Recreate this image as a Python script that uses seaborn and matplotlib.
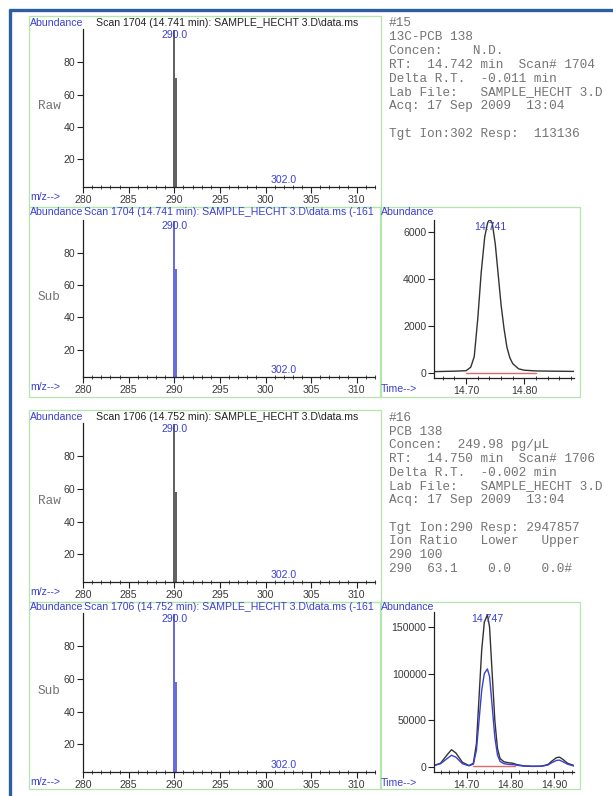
import numpy as np
import matplotlib
matplotlib.use("Agg")
import matplotlib.pyplot as plt
from matplotlib.patches import Rectangle
from matplotlib.lines import Line2D
import pandas as pd
import seaborn as sns

# ---- data ----
ms_mz = [290.0, 290.15, 302.0]
raw15_ab = [100, 70, 0.6]
sub15_ab = [100, 70, 0.6]
raw16_ab = [100, 58, 0.6]
sub16_ab = [100, 58, 0.6]
ms_xticks = [280, 285, 290, 295, 300, 305, 310]
ms_yticks = [20, 40, 60, 80]

c15_t = [14.645, 14.66, 14.68, 14.70, 14.708, 14.714, 14.72, 14.726, 14.732, 14.737,
         14.741, 14.745, 14.750, 14.755, 14.760, 14.765, 14.770, 14.775, 14.780,
         14.790, 14.80, 14.82, 14.85, 14.885]
c15_ab = [60, 70, 80, 100, 250, 700, 2300, 4300, 5800, 6400,
          6550, 6350, 5500, 4200, 2900, 1900, 1100, 650, 400,
          180, 120, 90, 80, 70]
c15_base_t = [14.70, 14.82]
c15_base_ab = [20, 20]

c16_t = [14.625, 14.64, 14.655, 14.665, 14.675, 14.69, 14.705, 14.715, 14.722, 14.728,
         14.734, 14.740, 14.747, 14.752, 14.758, 14.764, 14.770, 14.776, 14.785, 14.795,
         14.805, 14.815, 14.83, 14.85, 14.87, 14.885, 14.895, 14.905, 14.912, 14.92,
         14.93, 14.945]
c16_black = [1500, 4000, 13000, 18500, 15000, 5000, 1500, 4000, 25000, 75000,
             125000, 155000, 163000, 150000, 100000, 50000, 20000, 9000, 5500, 4500,
             4000, 2500, 1200, 800, 900, 2500, 6500, 10000, 10500, 8000,
             4000, 1500]
c16_blue = [1500, 3500, 9000, 12500, 10500, 3500, 1200, 3000, 18000, 50000,
            82000, 100000, 105000, 97000, 65000, 32000, 13000, 6000, 3500, 2800,
            2500, 1800, 900, 600, 700, 2000, 4800, 7000, 7300, 5500,
            3000, 1000]
c16_base_t = [14.715, 14.81]
c16_base_ab = [1500, 1500]

info15 = ["#15", "13C-PCB 138", "Concen:    N.D.", "RT:  14.742 min  Scan# 1704",
          "Delta R.T.  -0.011 min", "Lab File:   SAMPLE_HECHT 3.D",
          "Acq: 17 Sep 2009  13:04", "", "Tgt Ion:302 Resp:  113136"]
info16 = ["#16", "PCB 138", "Concen:  249.98 pg/\u00b5L", "RT:  14.750 min  Scan# 1706",
          "Delta R.T.  -0.002 min", "Lab File:   SAMPLE_HECHT 3.D",
          "Acq: 17 Sep 2009  13:04", "", "Tgt Ion:290 Resp: 2947857",
          "Ion Ratio   Lower   Upper", "290 100", "290  63.1    0.0    0.0#"]

sns.set_style("ticks")
plt.rcParams['font.family'] = ['Liberation Sans', 'DejaVu Sans']

W, H = 613, 796
fig = plt.figure(figsize=(W / 100, H / 100), dpi=100)

BLUE = "#3a40d4"
GREEN = "#b4e6ac"
GRAY = "#747474"
TXT = "#3a3a3a"
FS = 7.6
MONO = 9.2


def px_axes(l, t, r, b):
    return fig.add_axes([l / W, 1 - b / H, (r - l) / W, (b - t) / H])


def ftext(x, y, s, **kw):
    kw.setdefault("va", "center")
    kw.setdefault("fontsize", FS)
    fig.text(x / W, 1 - y / H, s, **kw)


def box(l, t, r, b):
    fig.add_artist(Rectangle((l / W, 1 - b / H), (r - l) / W, (b - t) / H,
                             transform=fig.transFigure, fill=False, ec=GREEN, lw=0.9))


def style(ax):
    sns.despine(ax=ax)
    for s in ("left", "bottom"):
        ax.spines[s].set_color("#222222")
        ax.spines[s].set_linewidth(0.9)
    ax.tick_params(which="major", direction="out", length=4, width=0.8,
                   colors="#222222", labelcolor=TXT, labelsize=FS, pad=1.5)
    ax.tick_params(axis="x", which="minor", direction="inout", length=3.5, width=0.6,
                   colors="#222222")
    ax.tick_params(axis="y", which="minor", length=0)
    ax.set_facecolor("white")
    ax.set_xlabel("")
    ax.set_ylabel("")


def spectrum(top, bottom, ab, color, label):
    ax = px_axes(83, top, 375, bottom)
    ax.vlines(ms_mz, 0, ab, color=color, lw=1.1)
    ax.set_xlim(280, 312)
    ax.set_ylim(3, 100.5)
    ax.set_xticks(ms_xticks)
    ax.set_xticks(np.arange(280, 313, 1), minor=True)
    ax.set_yticks(ms_yticks)
    style(ax)
    tr = ax.get_xaxis_transform()
    ax.text(290, 0.995, "290.0", transform=tr, ha="center", va="top", color=BLUE, fontsize=FS)
    ax.text(302, 0.012, "302.0", transform=tr, ha="center", va="bottom", color=BLUE, fontsize=FS)
    ftext(38, (top + bottom) / 2 - 2, label, color=GRAY, fontsize=MONO, family="Liberation Mono")
    ftext(30, bottom + 10, "m/z-->", color=BLUE)
    return ax


def chrom_limits(ax, xlim, ylim, yticks, xticks):
    ax.set_xlim(*xlim)
    ax.set_ylim(*ylim)
    ax.set_yticks(yticks)
    ax.set_xticks(xticks)
    ax.set_xticks(np.arange(14.62, 14.96, 0.02), minor=True)
    ax.xaxis.set_major_formatter(matplotlib.ticker.FormatStrFormatter("%.2f"))
    ax.set_xlim(*xlim)
    ax.set_ylim(*ylim)


# ---- compound 15 ----
box(29, 16, 381, 207)
ftext(30, 23, "Abundance", color=BLUE)
ftext(96, 23, "Scan 1704 (14.741 min): SAMPLE_HECHT 3.D\\data.ms", color="#222222")
spectrum(29, 187, raw15_ab, "#333333", "Raw")

box(29, 207, 381, 397)
ftext(30, 212, "Abundance", color=BLUE)
ftext(84, 212, "Scan 1704 (14.741 min): SAMPLE_HECHT 3.D\\data.ms (-161", color=BLUE)
spectrum(220, 377, sub15_ab, BLUE, "Sub")

box(380, 207, 580, 397)
ftext(381, 212, "Abundance", color=BLUE)
ftext(381, 389, "Time-->", color=BLUE)
ax = px_axes(434, 220, 574, 378)
d15 = pd.DataFrame({"t": c15_t, "ab": c15_ab})
sns.lineplot(data=d15, x="t", y="ab", ax=ax, color="#333333", lw=1.0, estimator=None)
ax.plot(c15_base_t, c15_base_ab, color="#e06a6a", lw=1.0)
chrom_limits(ax, (14.645, 14.885), (-210, 6510), [0, 2000, 4000, 6000], [14.70, 14.80])
ax.text(14.741, 0.99, "14.741", transform=ax.get_xaxis_transform(), ha="center", va="top",
        color=BLUE, fontsize=FS)
style(ax)

for i, line in enumerate(info15):
    ftext(389, 23 + i * 13.9, line, color=GRAY, fontsize=MONO, family="Liberation Mono")

# ---- compound 16 ----
box(29, 410, 381, 602)
ftext(30, 417, "Abundance", color=BLUE)
ftext(96, 417, "Scan 1706 (14.752 min): SAMPLE_HECHT 3.D\\data.ms", color="#222222")
spectrum(423, 582, raw16_ab, "#333333", "Raw")

box(29, 602, 381, 789)
ftext(30, 607, "Abundance", color=BLUE)
ftext(84, 607, "Scan 1706 (14.752 min): SAMPLE_HECHT 3.D\\data.ms (-161", color=BLUE)
spectrum(613, 772, sub16_ab, BLUE, "Sub")

box(380, 602, 580, 789)
ftext(381, 607, "Abundance", color=BLUE)
ftext(381, 783, "Time-->", color=BLUE)
ax = px_axes(434, 612, 574, 772)
d16 = pd.DataFrame({"t": c16_t + c16_t, "ab": c16_black + c16_blue,
                    "ion": ["a"] * len(c16_t) + ["b"] * len(c16_t)})
sns.lineplot(data=d16, x="t", y="ab", hue="ion", palette=["#333333", BLUE], ax=ax,
             lw=1.0, estimator=None, legend=False)
ax.plot(c16_base_t, c16_base_ab, color="#e06a6a", lw=1.0)
chrom_limits(ax, (14.625, 14.945), (-5400, 166000), [0, 50000, 100000, 150000],
             [14.70, 14.80, 14.90])
ax.text(14.747, 0.985, "14.747", transform=ax.get_xaxis_transform(), ha="center", va="top",
        color=BLUE, fontsize=FS)
style(ax)

for i, line in enumerate(info16):
    ftext(389, 418 + i * 13.7, line, color=GRAY, fontsize=MONO, family="Liberation Mono")

# window frame, top and left edge
fig.add_artist(Line2D([10 / W, 1], [1 - 10 / H, 1 - 10 / H], transform=fig.transFigure,
                      color="#2d5e9e", lw=2.4))
fig.add_artist(Line2D([10 / W, 10 / W], [0, 1 - 10 / H], transform=fig.transFigure,
                      color="#2d5e9e", lw=2.4))

fig.savefig("out.png", dpi=100)
